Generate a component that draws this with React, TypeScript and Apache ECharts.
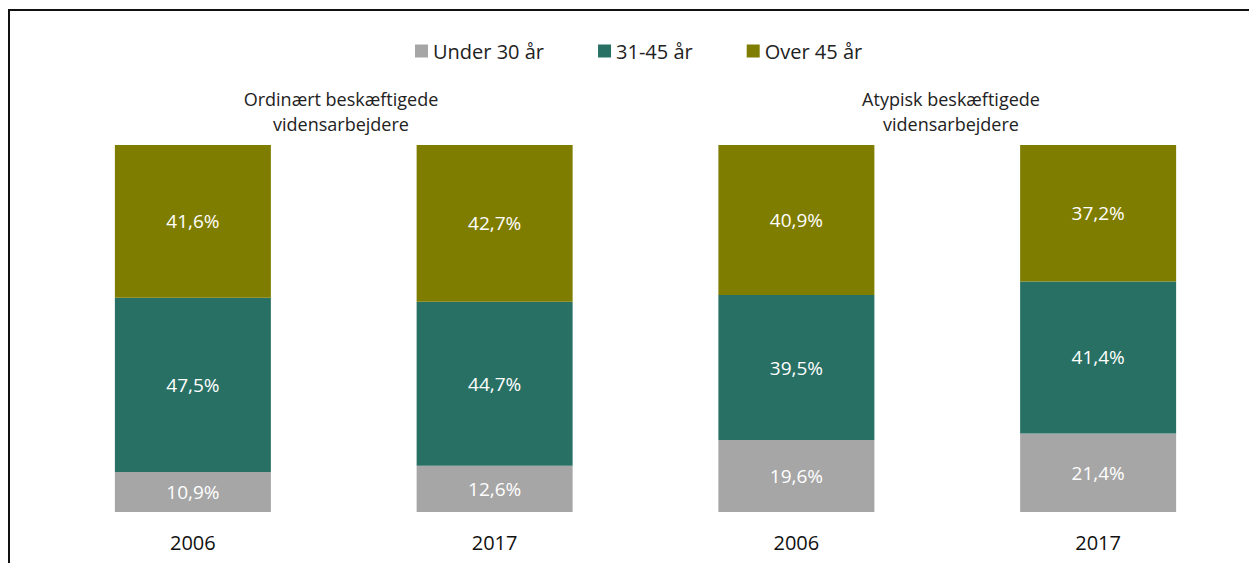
import React, { useEffect, useRef } from "react";
import * as echarts from "echarts";

const categories = ["2006", "2017", "2006", "2017"];
const groupTitleLines = [
  ["Ordinært beskæftigede", "vidensarbejdere"],
  ["Atypisk beskæftigede", "vidensarbejdere"],
];
const seriesNames = ["Under 30 år", "31-45 år", "Over 45 år"];
const under30 = [10.9, 12.6, 19.6, 21.4];
const age31to45 = [47.5, 44.7, 39.5, 41.4];
const over45 = [41.6, 42.7, 40.9, 37.2];
const colors = ["#a6a6a6", "#287064", "#7f7d00"];

export default function App() {
  const ref = useRef<HTMLDivElement>(null);
  useEffect(() => {
    if (!ref.current) return;
    const chart = echarts.init(ref.current, null, { renderer: "svg" });
    const font = "'Open Sans', 'Noto Sans', sans-serif";
    const mk = (name: string, data: number[], color: string) => ({
      name,
      type: "bar",
      stack: "total",
      data,
      barWidth: 156,
      itemStyle: { color },
      label: {
        show: true,
        position: "inside",
        color: "#ffffff",
        fontSize: 19,
        fontFamily: font,
        formatter: (p: any) => p.value.toFixed(1).replace(".", ",") + "%",
      },
    });
    const titleX = [341, 951];
    const lineY = [99, 124];
    const titleTexts: any[] = [];
    groupTitleLines.forEach((lines, gi) => {
      lines.forEach((line, li) => {
        titleTexts.push({
          type: "text",
          x: titleX[gi],
          y: lineY[li],
          style: {
            text: line,
            fontSize: 18,
            fontFamily: font,
            fill: "#222",
            textAlign: "center",
            textVerticalAlign: "middle",
          },
        });
      });
    });
    chart.setOption({
      animation: false,
      backgroundColor: "#ffffff",
      textStyle: { fontFamily: font },
      legend: {
        data: seriesNames,
        left: 410,
        top: 36,
        icon: "rect",
        itemWidth: 13,
        itemHeight: 13,
        itemGap: 54,
        itemStyle: { borderWidth: 0 },
        textStyle: { fontSize: 20, color: "#222", fontFamily: font },
      },
      grid: { left: 42, top: 145, width: 1213, height: 367, containLabel: false },
      xAxis: {
        type: "category",
        data: categories,
        axisLine: { show: false },
        axisTick: { show: false },
        axisLabel: { fontSize: 20, color: "#111", margin: 20, fontFamily: font },
      },
      yAxis: { type: "value", min: 0, max: 100, show: false },
      graphic: [
        {
          type: "rect",
          shape: { x: 9, y: 10, width: 1400, height: 700 },
          style: { fill: "none", stroke: "#111", lineWidth: 2 },
          silent: true,
        },
        ...titleTexts,
      ],
      series: [
        mk(seriesNames[0], under30, colors[0]),
        mk(seriesNames[1], age31to45, colors[1]),
        mk(seriesNames[2], over45, colors[2]),
      ],
    });
    return () => chart.dispose();
  }, []);
  return (
    <div
      ref={ref}
      style={{ position: "absolute", left: 0, top: 0, width: 1249, height: 563 }}
    />
  );
}
